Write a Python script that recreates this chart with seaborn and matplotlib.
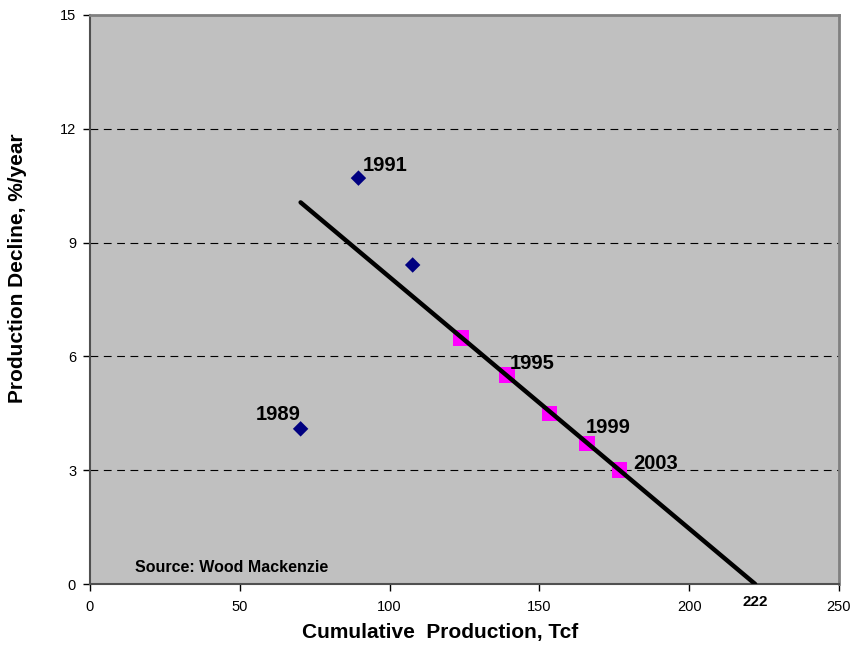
import matplotlib
matplotlib.use("Agg")
import matplotlib.pyplot as plt
import matplotlib.transforms as mtransforms
import pandas as pd
import seaborn as sns

# early years (diamonds) and later years (squares)
early_x = [70.3, 89.6, 107.7]
early_y = [4.09, 10.7, 8.41]
late_x = [123.8, 139.2, 153.4, 165.8, 176.7]
late_y = [6.49, 5.51, 4.50, 3.71, 3.01]

# fitted decline line, reaching zero at 222 Tcf
trend_x = [70.3, 222.0]
trend_y = [10.06, 0.0]

# year labels: (text, x, y of the point they belong to)
year_labels = ["1989", "1991", "1995", "1999", "2003"]
year_label_x = [70.3, 89.6, 139.2, 165.8, 176.7]
year_label_y = [4.09, 10.7, 5.51, 3.71, 3.01]

x_ticks = [0, 50, 100, 150, 200, 250]
y_ticks = [0, 3, 6, 9, 12, 15]


def main():
    sns.set_theme(style="white", rc={"text.color": "black", "axes.labelcolor": "black",
                                     "xtick.color": "black", "ytick.color": "black"})
    plt.rcParams["font.family"] = ["Liberation Sans", "DejaVu Sans"]

    early = pd.DataFrame({"x": early_x, "y": early_y})
    late = pd.DataFrame({"x": late_x, "y": late_y})
    trend = pd.DataFrame({"x": trend_x, "y": trend_y})

    fig = plt.figure(figsize=(8.54, 6.49), dpi=100)
    ax = fig.add_axes([90 / 854, 65 / 649, 749 / 854, 569 / 649])
    ax.set_facecolor("#C0C0C0")

    for yv in y_ticks[1:-1]:
        ax.axhline(yv, color="black", lw=0.8, ls=(0, (7, 5)), zorder=1)

    sns.lineplot(data=trend, x="x", y="y", ax=ax, color="black", lw=3.2,
                 solid_capstyle="round", zorder=3)
    sns.scatterplot(data=early, x="x", y="y", ax=ax, marker="D", s=62,
                    color="#000080", edgecolor="none", zorder=4)
    sns.scatterplot(data=late, x="x", y="y", ax=ax, marker="s", s=125,
                    color="#FF00FF", edgecolor="none", zorder=2)

    offsets = {
        "1989": ((0, 10.5), "right"),
        "1991": ((3.4, 9.0), "left"),
        "1995": ((2.2, 8.6), "left"),
        "1999": ((-0.7, 11.2), "left"),
        "2003": ((9.9, 4.3), "left"),
    }
    for txt, px, py in zip(year_labels, year_label_x, year_label_y):
        off, ha = offsets[txt]
        ax.annotate(txt, (px, py), xytext=off, textcoords="offset points",
                    ha=ha, va="center", fontsize=14.5, fontweight="bold",
                    color="black", zorder=5)

    ax.set_xlim(0, 250)
    ax.set_ylim(0, 15)
    ax.set_xticks(x_ticks)
    ax.set_yticks(y_ticks)
    ax.tick_params(axis="both", which="major", direction="out", length=5,
                   width=1, color="black", labelcolor="black", labelsize=10.5,
                   pad=5, left=True, bottom=True)
    ax.tick_params(axis="x", pad=6.5)

    for side in ["top", "right"]:
        ax.spines[side].set_color("#808080")
        ax.spines[side].set_linewidth(2)
    for side in ["left", "bottom"]:
        ax.spines[side].set_color("#505050")
        ax.spines[side].set_linewidth(1.5)

    ax.set_xlabel("Cumulative  Production, Tcf", fontsize=15, fontweight="bold", color="black")
    ax.set_ylabel("Production Decline, %/year", fontsize=15, fontweight="bold", color="black")
    ax.xaxis.set_label_coords(350 / 749, -39 / 569)
    ax.yaxis.set_label_coords(-63 / 749, 316 / 569)

    trans = mtransforms.blended_transform_factory(ax.transData, ax.transAxes)
    ax.text(222, -17.5 / 569, "222", transform=trans, ha="center", va="center",
            fontsize=11, fontweight="bold", color="black")

    ax.text(45 / 749, 16 / 569, "Source: Wood Mackenzie", transform=ax.transAxes,
            ha="left", va="center", fontsize=11.5, fontweight="bold", color="black")

    fig.savefig("out.png", dpi=100)
    plt.close(fig)


if __name__ == "__main__":
    main()
